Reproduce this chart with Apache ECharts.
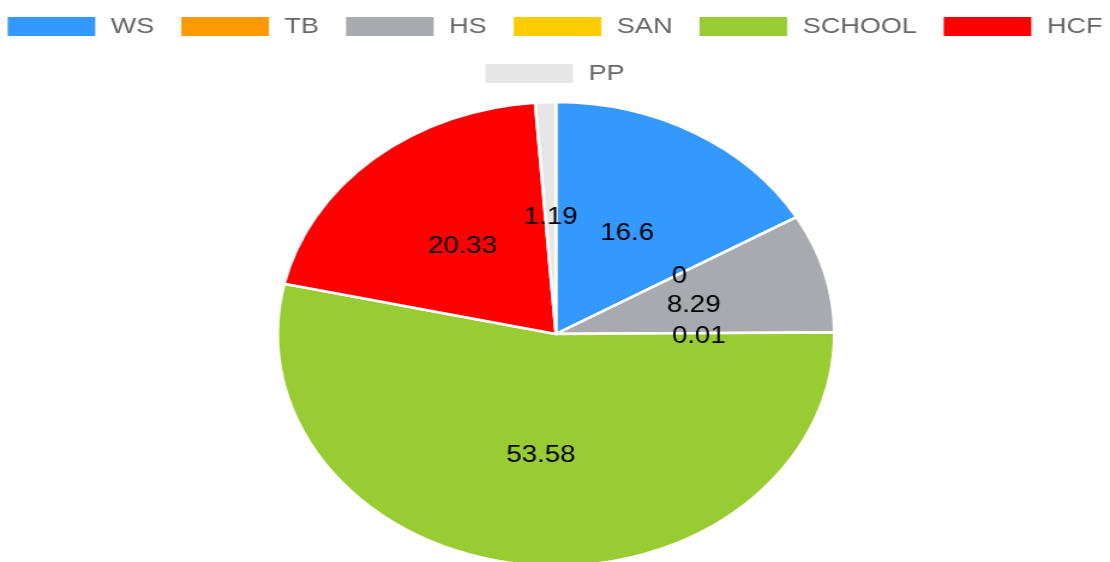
<!DOCTYPE html>
<html>
<head>
<meta charset="utf-8">
<script src="https://cdn.jsdelivr.net/npm/echarts@6/dist/echarts.min.js"></script>
<style>
html, body { margin: 0; padding: 0; background: #fff; overflow: hidden; }
/* the reference is stretched sideways (elliptical pie, wide text), so the chart is drawn narrower and scaled */
#chart { width: 925px; height: 562px; transform: scaleX(1.2); transform-origin: 0 0; }
</style>
</head>
<body>
<div id="chart"></div>
<script>
var categories = ['WS', 'TB', 'HS', 'SAN', 'SCHOOL', 'HCF', 'PP']
var values = [16.6, 0, 8.29, 0.01, 53.58, 20.33, 1.19]
var colors = ['#3399ff', '#ff9900', '#a8aab0', '#ffcc00', '#99cc33', '#ff0000', '#e6e6e6']

var fontFamily = '"Liberation Sans", Arial, sans-serif'

var legendBase = {
  left: 'center',
  padding: 0,
  icon: 'rect',
  itemWidth: 73,
  itemHeight: 19,
  itemGap: 22.5,
  itemStyle: { borderWidth: 0 },
  textStyle: {
    fontSize: 22.5,
    color: '#666',
    fontFamily: fontFamily,
    padding: [0, 0, 0, 8]
  }
}

var chart = echarts.init(document.getElementById('chart'))
chart.setOption({
  animation: false,
  color: colors,
  // two legends so that the second row is centred on its own
  legend: [
    Object.assign({}, legendBase, { top: 15, data: categories.slice(0, 6) }),
    Object.assign({}, legendBase, { top: 62, data: categories.slice(6) })
  ],
  series: [
    {
      type: 'pie',
      center: [463.3, 334],
      radius: 232,
      startAngle: 90,
      clockwise: true,
      itemStyle: { borderColor: '#fff', borderWidth: 2.5 },
      label: {
        show: true,
        position: 'inside',
        formatter: '{c}',
        color: '#000',
        fontSize: 23,
        fontFamily: fontFamily,
        offset: [0, 3]
      },
      labelLine: { show: false },
      data: categories.map(function (name, i) {
        return { name: name, value: values[i] }
      })
    }
  ]
})
</script>
</body>
</html>
